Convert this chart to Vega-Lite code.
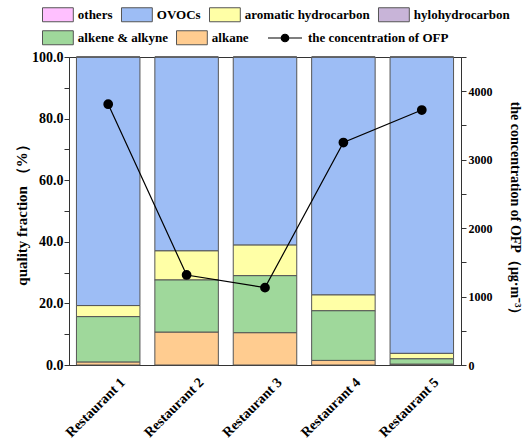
{
  "$schema": "https://vega.github.io/schema/vega-lite/v6.json",
  "autosize": "none",
  "width": 392,
  "height": 308,
  "padding": {"left": 69, "top": 57, "right": 64, "bottom": 77},
  "background": "white",
  "config": {
    "font": "Liberation Serif",
    "view": {"stroke": "#333", "strokeWidth": 1},
    "axis": {"labelFont": "Liberation Serif", "titleFont": "Liberation Serif", "labelFontWeight": "bold", "titleFontWeight": "bold", "labelColor": "black", "titleColor": "black", "domainColor": "#333", "tickColor": "#333", "grid": false},
    "legend": {"labelFont": "Liberation Serif", "labelFontWeight": "bold", "labelColor": "black", "labelFontSize": 13.5, "padding": 0, "direction": "horizontal", "orient": "none", "title": null}
  },
  "datasets": {
    "bars": [
      {"restaurant": "Restaurant 1", "category": "alkane", "ord": 1, "value": 1.0},
      {"restaurant": "Restaurant 1", "category": "alkene & alkyne", "ord": 2, "value": 14.7},
      {"restaurant": "Restaurant 1", "category": "hylohydrocarbon", "ord": 3, "value": 0},
      {"restaurant": "Restaurant 1", "category": "aromatic hydrocarbon", "ord": 4, "value": 3.6},
      {"restaurant": "Restaurant 1", "category": "OVOCs", "ord": 5, "value": 80.7},
      {"restaurant": "Restaurant 1", "category": "others", "ord": 6, "value": 0},
      {"restaurant": "Restaurant 2", "category": "alkane", "ord": 1, "value": 10.7},
      {"restaurant": "Restaurant 2", "category": "alkene & alkyne", "ord": 2, "value": 16.9},
      {"restaurant": "Restaurant 2", "category": "hylohydrocarbon", "ord": 3, "value": 0},
      {"restaurant": "Restaurant 2", "category": "aromatic hydrocarbon", "ord": 4, "value": 9.5},
      {"restaurant": "Restaurant 2", "category": "OVOCs", "ord": 5, "value": 62.9},
      {"restaurant": "Restaurant 2", "category": "others", "ord": 6, "value": 0},
      {"restaurant": "Restaurant 3", "category": "alkane", "ord": 1, "value": 10.5},
      {"restaurant": "Restaurant 3", "category": "alkene & alkyne", "ord": 2, "value": 18.5},
      {"restaurant": "Restaurant 3", "category": "hylohydrocarbon", "ord": 3, "value": 0},
      {"restaurant": "Restaurant 3", "category": "aromatic hydrocarbon", "ord": 4, "value": 10.0},
      {"restaurant": "Restaurant 3", "category": "OVOCs", "ord": 5, "value": 61.0},
      {"restaurant": "Restaurant 3", "category": "others", "ord": 6, "value": 0},
      {"restaurant": "Restaurant 4", "category": "alkane", "ord": 1, "value": 1.5},
      {"restaurant": "Restaurant 4", "category": "alkene & alkyne", "ord": 2, "value": 16.1},
      {"restaurant": "Restaurant 4", "category": "hylohydrocarbon", "ord": 3, "value": 0},
      {"restaurant": "Restaurant 4", "category": "aromatic hydrocarbon", "ord": 4, "value": 5.2},
      {"restaurant": "Restaurant 4", "category": "OVOCs", "ord": 5, "value": 77.2},
      {"restaurant": "Restaurant 4", "category": "others", "ord": 6, "value": 0},
      {"restaurant": "Restaurant 5", "category": "alkane", "ord": 1, "value": 0.3},
      {"restaurant": "Restaurant 5", "category": "alkene & alkyne", "ord": 2, "value": 1.7},
      {"restaurant": "Restaurant 5", "category": "hylohydrocarbon", "ord": 3, "value": 0},
      {"restaurant": "Restaurant 5", "category": "aromatic hydrocarbon", "ord": 4, "value": 1.8},
      {"restaurant": "Restaurant 5", "category": "OVOCs", "ord": 5, "value": 96.2},
      {"restaurant": "Restaurant 5", "category": "others", "ord": 6, "value": 0}
    ],
    "ofp": [
      {"restaurant": "Restaurant 1", "series": "the concentration of OFP", "ofp": 3810},
      {"restaurant": "Restaurant 2", "series": "the concentration of OFP", "ofp": 1315},
      {"restaurant": "Restaurant 3", "series": "the concentration of OFP", "ofp": 1130},
      {"restaurant": "Restaurant 4", "series": "the concentration of OFP", "ofp": 3250},
      {"restaurant": "Restaurant 5", "series": "the concentration of OFP", "ofp": 3725}
    ]
  },
  "layer": [
    {
      "data": {"name": "bars"},
      "transform": [
        {"stack": "value", "groupby": ["restaurant"], "sort": [{"field": "ord", "order": "ascending"}], "as": ["v0", "v1"]}
      ],
      "encoding": {
        "x": {"field": "restaurant", "type": "nominal", "sort": null,
              "scale": {"paddingInner": 0.19, "paddingOuter": 0.095},
              "axis": {"title": null, "labelAngle": -45, "labelFontSize": 14, "ticks": false, "labelPadding": 10, "labelOffset": 10, "domainColor": "#333"}},
        "y": {"field": "v1", "type": "quantitative",
              "scale": {"domain": [0, 100], "nice": false},
              "axis": {"orient": "left", "title": "quality fraction （%）", "titleFontSize": 15, "labelFontSize": 14,
                       "values": [0,10,20,30,40,50,60,70,80,90,100],
                       "labelExpr": "datum.value % 20 == 0 ? format(datum.value, '.1f') : ''",
                       "tickSize": 5, "labelPadding": 1, "titlePadding": 2}},
        "y2": {"field": "v0"}
      },
      "layer": [
        {
          "transform": [{"filter": {"field": "category", "oneOf": ["others", "OVOCs", "aromatic hydrocarbon", "hylohydrocarbon"]}}],
          "mark": {"type": "bar", "stroke": "#555", "strokeWidth": 1},
          "encoding": {
            "fill": {"field": "category", "type": "nominal",
                     "scale": {"domain": ["others", "OVOCs", "aromatic hydrocarbon", "hylohydrocarbon"],
                               "range": ["#FFC0FF", "#9DBDF5", "#FFFFA6", "#C8B4D8"]},
                     "legend": {"legendX": -18.6, "legendY": -50, "columnPadding": 6, "labelOffset": 12.4, "labelFontSize": 13,
                                "symbolType": "M-2.2,-1H2.2V1H-2.2Z", "symbolSize": 196, "symbolStrokeColor": "#555", "symbolStrokeWidth": 1}}
          }
        },
        {
          "transform": [{"filter": {"field": "category", "oneOf": ["alkene & alkyne", "alkane"]}}],
          "mark": {"type": "bar", "stroke": "#555", "strokeWidth": 1},
          "encoding": {
            "color": {"field": "category", "type": "nominal",
                      "scale": {"domain": ["alkene & alkyne", "alkane"], "range": ["#9FD89B", "#FFCC90"]},
                      "legend": {"legendX": -18.6, "legendY": -27, "columnPadding": 6, "labelOffset": 12.4, "labelFontSize": 13,
                                 "symbolType": "M-2.2,-1H2.2V1H-2.2Z", "symbolSize": 196, "symbolStrokeColor": "#555", "symbolStrokeWidth": 1}}
          }
        }
      ]
    },
    {
      "data": {"name": "ofp"},
      "mark": {"type": "line", "color": "black", "strokeWidth": 1.2, "point": {"filled": true, "size": 60, "color": "black"}},
      "encoding": {
        "x": {"field": "restaurant", "type": "nominal", "sort": null},
        "y": {"field": "ofp", "type": "quantitative",
              "scale": {"domain": [0, 4500], "nice": false},
              "axis": {"orient": "right", "title": "the concentration of OFP（μg·m⁻³）", "titleFontSize": 14, "labelFontSize": 12,
                       "values": [0,500,1000,1500,2000,2500,3000,3500,4000,4500],
                       "labelExpr": "datum.value % 1000 == 0 ? format(datum.value, 'd') : ''",
                       "tickSize": 5, "labelPadding": 2, "titlePadding": 15}},
        "stroke": {"field": "series", "type": "nominal",
                   "scale": {"range": ["black"]},
                   "legend": {"legendX": 198, "legendY": -37, "labelFontSize": 13,
                              "symbolType": "M-1,0H-0.22A0.22,0.22 0 1,1 0.22,0H1M0.22,0A0.22,0.22 0 1,1 -0.22,0", "symbolSize": 1156,
                              "symbolFillColor": "black", "symbolStrokeColor": "black", "symbolStrokeWidth": 1.2, "labelOffset": 5}}
      }
    }
  ],
  "resolve": {"scale": {"y": "independent"}}
}
